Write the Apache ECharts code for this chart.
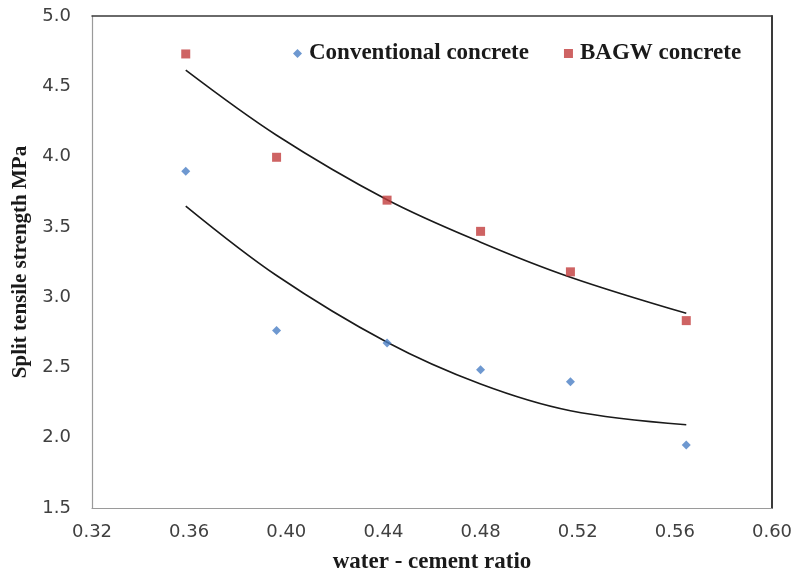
<!DOCTYPE html>
<html>
<head>
<meta charset="utf-8">
<script src="https://cdn.jsdelivr.net/npm/echarts@6/dist/echarts.min.js"></script>
<style>
html,body{margin:0;padding:0;background:#fff;}
#chart{width:793px;height:575px;}
</style>
</head>
<body>
<div id="chart"></div>
<script>
// x values (water - cement ratio) as plotted
var ratioX = [0.3586, 0.396, 0.4415, 0.480, 0.517, 0.5647];
// measured split tensile strength (MPa)
var conventional = [3.895, 2.762, 2.674, 2.484, 2.398, 1.949];
var bagw = [4.73, 3.995, 3.69, 3.468, 3.18, 2.833];
// trend line readings (MPa)
var trendX = [0.3586, 0.396, 0.4415, 0.480, 0.517, 0.5647];
var trendConventional = [3.648, 3.154, 2.679, 2.382, 2.192, 2.092];
var trendBagw = [4.615, 4.152, 3.693, 3.391, 3.142, 2.885];
var legendNames = ['Conventional concrete', 'BAGW concrete'];
var xTicks = {min: 0.32, max: 0.60, step: 0.04};
var yTicks = {min: 1.5, max: 5.0, step: 0.5};

function pairs(xs, ys) { return xs.map(function (x, i) { return [x, ys[i]]; }); }

var chart = echarts.init(document.getElementById('chart'));
var serif = '"Liberation Serif", "Times New Roman", serif';
chart.setOption({
  backgroundColor: '#ffffff',
  animation: false,
  grid: {left: 92, right: 21, top: 16, bottom: 67, show: false, outerBoundsMode: 'none', containLabel: false},
  legend: {
    data: [
      {name: legendNames[0], icon: 'diamond'},
      {name: legendNames[1], icon: 'rect'}
    ],
    left: 288, top: 37,
    itemWidth: 9, itemHeight: 9, itemGap: 35,
    textStyle: {fontFamily: serif, fontSize: 23, fontWeight: 'bold', color: '#1a1a1a', padding: [0,0,0,2]}
  },
  xAxis: [{
    type: 'value', min: xTicks.min, max: xTicks.max, interval: xTicks.step,
    name: 'water - cement ratio', nameLocation: 'middle', nameGap: 43,
    nameTextStyle: {fontFamily: serif, fontSize: 23, fontWeight: 'bold', color: '#1a1a1a'},
    axisLine: {show: true, lineStyle: {color: '#9a9a9a', width: 1.2}},
    axisTick: {show: false},
    splitLine: {show: false},
    axisLabel: {margin: 15, fontFamily: '"DejaVu Sans", sans-serif', fontSize: 18, color: '#404040',
      formatter: function (v) { return v.toFixed(2); }}
  }, {
    type: 'value', position: 'top', min: xTicks.min, max: xTicks.max, interval: xTicks.step,
    axisLine: {show: true, lineStyle: {color: '#3a3a3a', width: 1.5}},
    axisTick: {show: false}, axisLabel: {show: false}, splitLine: {show: false}
  }],
  yAxis: [{
    type: 'value', min: yTicks.min, max: yTicks.max, interval: yTicks.step,
    name: 'Split tensile strength MPa', nameLocation: 'middle', nameGap: 58,
    nameTextStyle: {fontFamily: serif, fontSize: 21, fontWeight: 'bold', color: '#1a1a1a'},
    axisLine: {show: true, lineStyle: {color: '#9a9a9a', width: 1.2}},
    axisTick: {show: false},
    splitLine: {show: false},
    axisLabel: {margin: 21, fontFamily: '"DejaVu Sans", sans-serif', fontSize: 18, color: '#404040',
      formatter: function (v) { return v.toFixed(1); }}
  }, {
    type: 'value', position: 'right', min: yTicks.min, max: yTicks.max, interval: yTicks.step,
    axisLine: {show: true, lineStyle: {color: '#3a3a3a', width: 2}},
    axisTick: {show: false}, axisLabel: {show: false}, splitLine: {show: false}
  }],
  series: [
    {
      name: legendNames[0], type: 'scatter', symbol: 'diamond', symbolSize: 9,
      itemStyle: {color: '#4a7ec4'}, data: pairs(ratioX, conventional), z: 3
    },
    {
      name: legendNames[1], type: 'scatter', symbol: 'rect', symbolSize: 9,
      itemStyle: {color: '#c23c3c'}, data: pairs(ratioX, bagw), z: 3
    },
    {
      name: 'trend-conv', type: 'line', smooth: 0.35, showSymbol: false, symbol: 'none',
      lineStyle: {color: '#1a1a1a', width: 1.6}, data: pairs(trendX, trendConventional), z: 2
    },
    {
      name: 'trend-bagw', type: 'line', smooth: 0.35, showSymbol: false, symbol: 'none',
      lineStyle: {color: '#1a1a1a', width: 1.6}, data: pairs(trendX, trendBagw), z: 2
    }
  ]
});
</script>
</body>
</html>
